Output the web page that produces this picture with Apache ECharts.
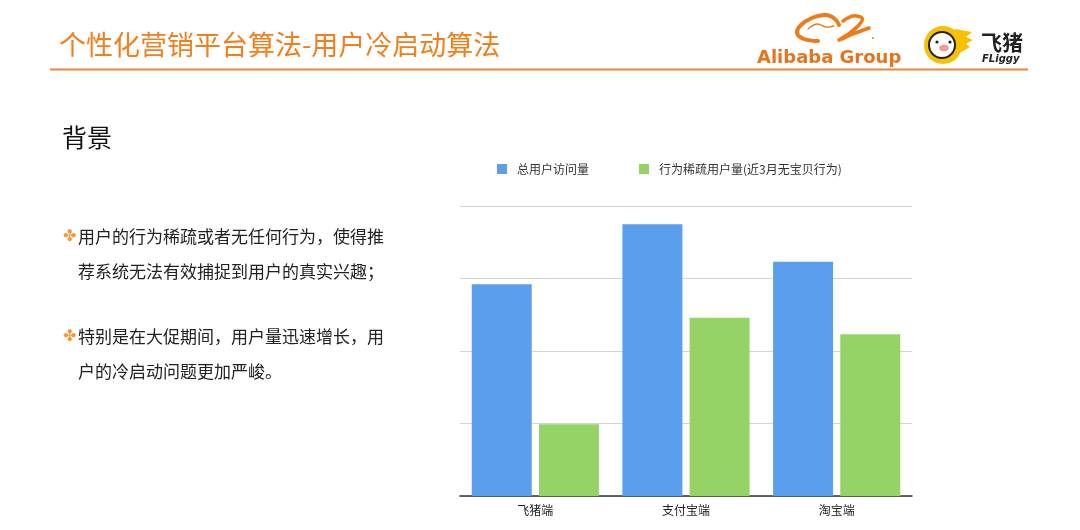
<!DOCTYPE html>
<html>
<head>
<meta charset="utf-8">
<script src="https://cdn.jsdelivr.net/npm/echarts@6/dist/echarts.min.js"></script>
<style>
html,body{margin:0;padding:0;background:#fff;}
#c{width:1080px;height:530px;}
</style>
</head>
<body>
<div id="c"></div>
<script>
// ---- data ----
const categories = ['飞猪端', '支付宝端', '淘宝端'];
const seriesNames = ['总用户访问量', '行为稀疏用户量(近3月无宝贝行为)'];
const totalVisits = [2.92, 3.75, 3.23];
const sparseUsers = [0.99, 2.46, 2.23];
const yTicks = [0, 1, 2, 3, 4];

const titleText = '个性化营销平台算法-用户冷启动算法';
const sectionText = '背景';
const bulletLines = [
  ['用户的行为稀疏或者无任何行为，使得推', '荐系统无法有效捕捉到用户的真实兴趣；'],
  ['特别是在大促期间，用户量迅速增长，用', '户的冷启动问题更加严峻。']
];

const CJK = '"Noto Sans CJK SC", "Noto Sans", sans-serif';
const orange = '#F07F1C';

const chart = echarts.init(document.getElementById('c'), null, {renderer: 'canvas'});

function txt(x, y, text, size, color, family, weight, style) {
  return {type: 'text', x: x, y: y, style: {text: text, fontSize: size, fill: color, fontFamily: family || CJK, fontWeight: weight || 'normal', fontStyle: style || 'normal', verticalAlign: 'middle', align: 'left'}};
}

const swooshStyle = {stroke: '#EE7A1A', fill: null, lineCap: 'round', lineJoin: 'round'};
const graphics = [
  txt(59, 45, titleText, 27, orange),
  {type: 'line', shape: {x1: 50, y1: 69.5, x2: 1028, y2: 69.5}, style: {stroke: '#F0843A', lineWidth: 2}},
  // Alibaba logo swoosh
  {type: 'polyline', shape: {points: [[818, 41], [804, 39], [797, 33], [801, 25], [812, 18], [826, 15], [835, 19], [839, 25]], smooth: 0.4},
    style: Object.assign({lineWidth: 4}, swooshStyle)},
  {type: 'polyline', shape: {points: [[843, 21], [853, 16], [862, 18], [859, 25], [847, 35], [839, 40], [853, 34], [869, 28]], smooth: 0.35},
    style: Object.assign({lineWidth: 3.5}, swooshStyle)},
  {type: 'polyline', shape: {points: [[808, 29], [817, 24], [826, 27], [834, 26]], smooth: 0.4},
    style: Object.assign({lineWidth: 1.3}, swooshStyle)},
  {type: 'circle', shape: {cx: 873, cy: 38, r: 1}, style: {fill: '#EE7A1A'}},
  txt(757, 58, 'Alibaba Group', 18, '#E8731C', '"DejaVu Sans", sans-serif', 'bold'),
  // Fliggy logo
  {type: 'polygon', shape: {points: [[955, 29], [972, 32], [966, 37], [973, 40], [966, 44], [970, 47], [958, 54]]}, style: {fill: '#F7C100'}},
  {type: 'circle', shape: {cx: 943, cy: 45, r: 19}, style: {fill: '#F7C100'}},
  {type: 'circle', shape: {cx: 942, cy: 45, r: 13}, style: {fill: '#fff', stroke: '#222', lineWidth: 2}},
  {type: 'circle', shape: {cx: 937, cy: 42, r: 1.6}, style: {fill: '#222'}},
  {type: 'circle', shape: {cx: 950, cy: 42, r: 1.6}, style: {fill: '#222'}},
  {type: 'circle', shape: {cx: 944, cy: 48, r: 3.5}, scaleX: 1.4, originX: 944, originY: 48, style: {fill: '#F49AA5'}},
  txt(981, 42, '飞猪', 21, '#222', CJK, 'bold'),
  txt(982, 59, 'FLiggy', 10, '#222', '"DejaVu Sans", sans-serif', 'bold', 'italic'),
  // section heading
  txt(62, 137, sectionText, 25, '#111')
];

const lineYs = [[237, 272], [337, 372]];
bulletLines.forEach((lines, i) => {
  graphics.push(txt(63, lineYs[i][0], '✤', 16, '#F39A3C', '"DejaVu Sans", sans-serif'));
  lines.forEach((t, j) => {
    graphics.push(txt(78, lineYs[i][j], t, 17, '#222'));
  });
});

chart.setOption({
  animation: false,
  backgroundColor: '#fff',
  graphic: {elements: graphics},
  legend: {
    left: 492, top: 158,
    itemWidth: 10, itemHeight: 10, itemGap: 50,
    icon: 'rect',
    data: seriesNames,
    textStyle: {fontFamily: CJK, fontSize: 12, color: '#333', padding: [0, 0, 0, 5]}
  },
  grid: {left: 460, right: 168, top: 206, bottom: 34},
  xAxis: {
    type: 'category', data: categories,
    axisLine: {lineStyle: {color: '#333', width: 1.5}},
    axisTick: {show: false},
    axisLabel: {fontFamily: CJK, fontSize: 12, color: '#222', margin: 8}
  },
  yAxis: {
    type: 'value', min: yTicks[0], max: yTicks[yTicks.length - 1], interval: 1,
    axisLabel: {show: false},
    axisLine: {show: false}, axisTick: {show: false},
    splitLine: {lineStyle: {color: '#d4d4d4', width: 1.2}}
  },
  series: [
    {name: seriesNames[0], type: 'bar', data: totalVisits, barWidth: 60, barGap: '12%', itemStyle: {color: '#5C9EEE'}},
    {name: seriesNames[1], type: 'bar', data: sparseUsers, barWidth: 60, itemStyle: {color: '#96D366'}}
  ]
});
</script>
</body>
</html>
